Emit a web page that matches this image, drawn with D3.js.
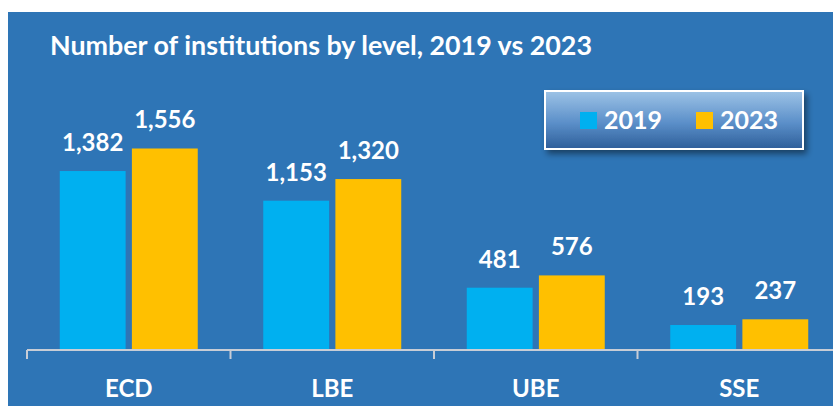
<!DOCTYPE html>
<html>
<head>
<meta charset="utf-8">
<script src="https://cdn.jsdelivr.net/npm/d3@7"></script>
<style>
  body { margin: 0; background: #fff; }
  text { font-family: Lato, "Open Sans", sans-serif; font-weight: bold; fill: #fff; }
</style>
</head>
<body>
<svg id="chart" width="833" height="406"></svg>
<script>
// Data
var levels = ['ECD', 'LBE', 'UBE', 'SSE'];
var years = ['2019', '2023'];
var values2019 = [1382, 1153, 481, 193];
var values2023 = [1556, 1320, 576, 237];
var colors = ['#00B0F0', '#FFC000'];

var svg = d3.select('#chart');
var defs = svg.append('defs');

// legend gradient + shadow
var grad = defs.append('linearGradient').attr('id', 'legGrad')
  .attr('x1', 0).attr('y1', 0).attr('x2', 0).attr('y2', 1);
grad.append('stop').attr('offset', '0%').attr('stop-color', '#9DC3E6');
grad.append('stop').attr('offset', '55%').attr('stop-color', '#5B8FC9');
grad.append('stop').attr('offset', '100%').attr('stop-color', '#2E5E99');
var shadow = defs.append('filter').attr('id', 'shadow')
  .attr('x', '-10%').attr('y', '-20%').attr('width', '130%').attr('height', '160%');
shadow.append('feDropShadow').attr('dx', 3).attr('dy', 4).attr('stdDeviation', 3)
  .attr('flood-color', '#000').attr('flood-opacity', 0.45);

// background
svg.append('rect').attr('x', 8).attr('y', 12).attr('width', 825).attr('height', 394)
  .attr('fill', '#2E75B6');

svg.append('text').attr('x', 50).attr('y', 55).attr('font-size', 26)
  .attr('textLength', 542).attr('lengthAdjust', 'spacingAndGlyphs')
  .text('Number of institutions by level, 2019 vs 2023');

// scales
var x = d3.scaleBand().domain(levels).range([27, 841]);
var xs = d3.scaleBand().domain(years).range([0, 138]).paddingInner(0.087);
var y = d3.scaleLinear().domain([0, 1600]).range([350, 142.8]);

var data = levels.map(function(l, i) {
  return {level: l, vals: [
    {year: '2019', value: values2019[i], color: colors[0]},
    {year: '2023', value: values2023[i], color: colors[1]}
  ]};
});

var groups = svg.selectAll('g.level').data(data).enter()
  .append('g').attr('class', 'level')
  .attr('transform', function(d) { return 'translate(' + (x(d.level) + x.bandwidth() / 2 - 69) + ',0)'; });

groups.selectAll('rect').data(function(d) { return d.vals; }).enter()
  .append('rect')
  .attr('x', function(d) { return xs(d.year); })
  .attr('width', xs.bandwidth())
  .attr('y', function(d) { return y(d.value); })
  .attr('height', function(d) { return y(0) - y(d.value); })
  .attr('fill', function(d) { return d.color; });

groups.selectAll('text.val').data(function(d) { return d.vals; }).enter()
  .append('text').attr('class', 'val')
  .attr('x', function(d) { return xs(d.year) + xs.bandwidth() / 2; })
  .attr('y', function(d) { return y(d.value) - 20; })
  .attr('text-anchor', 'middle')
  .attr('font-size', 24)
  .text(function(d) { return d3.format(',')(d.value); });

// axis
var axis = svg.append('g').attr('transform', 'translate(0,350)')
  .call(d3.axisBottom(x).tickSize(0).tickFormat(''));
axis.select('.domain').attr('stroke', '#C8CDD6').attr('stroke-width', 2).attr('d', 'M27,0H833');
axis.selectAll('.tick').remove();
axis.selectAll('line.sep').data(levels).enter().append('line').attr('class', 'sep')
  .attr('x1', function(d) { return x(d); }).attr('x2', function(d) { return x(d); })
  .attr('y1', 0).attr('y2', 9).attr('stroke', '#C8CDD6').attr('stroke-width', 2);
axis.selectAll('text.cat').data(levels).enter().append('text').attr('class', 'cat')
  .attr('x', function(d) { return x(d) + x.bandwidth() / 2; })
  .attr('y', 47).attr('text-anchor', 'middle').attr('font-size', 24)
  .text(function(d) { return d; });

// legend
var leg = svg.append('g');
leg.append('rect').attr('x', 545).attr('y', 91).attr('width', 258).attr('height', 58)
  .attr('fill', 'url(#legGrad)').attr('stroke', '#fff').attr('stroke-width', 2)
  .attr('filter', 'url(#shadow)');
var legX = [580, 696];
years.forEach(function(yr, i) {
  leg.append('rect').attr('x', legX[i]).attr('y', 112).attr('width', 17).attr('height', 17)
    .attr('fill', colors[i]);
  leg.append('text').attr('x', legX[i] + 24).attr('y', 129).attr('font-size', 25).text(yr);
});
</script>
</body>
</html>
